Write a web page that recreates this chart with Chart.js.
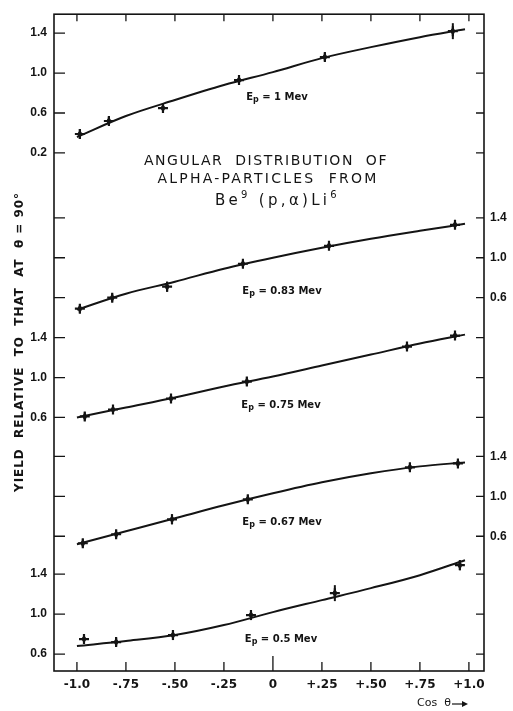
<!DOCTYPE html>
<html>
<head>
<meta charset="utf-8">
<script src="https://cdn.jsdelivr.net/npm/chart.js@4.4.1/dist/chart.umd.min.js"></script>
<style>
  html, body { margin: 0; padding: 0; background: #fff; }
  canvas { display: block; }
</style>
</head>
<body>
<canvas id="chart" width="513" height="711"></canvas>
<script>
// proton energies (Mev), top to bottom
const energies = ["1", "0.83", "0.75", "0.67", "0.5"];

// measured points: cos theta, yield relative to 90 deg, error (+/-)
const cos1 = [-0.985, -0.837, -0.561, -0.173, 0.265, 0.918];
const yld1 = [0.39, 0.52, 0.65, 0.93, 1.16, 1.42];
const err1 = [0.05, 0.04, 0.05, 0.04, 0.04, 0.08];

const cos2 = [-0.985, -0.82, -0.54, -0.153, 0.286, 0.929];
const yld2 = [0.49, 0.60, 0.71, 0.94, 1.12, 1.33];
const err2 = [0.04, 0.04, 0.05, 0.04, 0.04, 0.04];

const cos3 = [-0.96, -0.816, -0.52, -0.133, 0.684, 0.929];
const yld3 = [0.61, 0.68, 0.79, 0.96, 1.31, 1.42];
const err3 = [0.04, 0.04, 0.04, 0.04, 0.04, 0.04];

const cos4 = [-0.97, -0.80, -0.515, -0.128, 0.699, 0.944];
const yld4 = [0.53, 0.62, 0.77, 0.97, 1.29, 1.33];
const err4 = [0.04, 0.04, 0.05, 0.04, 0.04, 0.04];

const cos5 = [-0.964, -0.80, -0.51, -0.112, 0.316, 0.954];
const yld5 = [0.75, 0.72, 0.79, 0.99, 1.21, 1.49];
const err5 = [0.05, 0.04, 0.05, 0.05, 0.08, 0.05];

// smooth curves drawn through the points
const fitCos = [-1.0, -0.75, -0.5, -0.25, 0, 0.25, 0.5, 0.75, 0.98];
const fit1 = [0.36, 0.57, 0.73, 0.88, 1.01, 1.15, 1.26, 1.36, 1.44];
const fit2 = [0.48, 0.64, 0.76, 0.89, 1.00, 1.10, 1.19, 1.27, 1.34];
const fit3 = [0.60, 0.70, 0.80, 0.91, 1.01, 1.12, 1.23, 1.34, 1.43];
const fit4 = [0.52, 0.65, 0.78, 0.91, 1.03, 1.14, 1.23, 1.30, 1.34];
const fit5 = [0.68, 0.73, 0.79, 0.89, 1.02, 1.14, 1.26, 1.39, 1.54];

// axis ticks
const xTickVals = [-1, -0.75, -0.5, -0.25, 0, 0.25, 0.5, 0.75, 1];
const xTickLabels = ["-1.0", "-.75", "-.50", "-.25", "0", "+.25", "+.50", "+.75", "+1.0"];
const yTicksTop = [0.2, 0.6, 1.0, 1.4];
const yTicks = [0.6, 1.0, 1.4];

const series = [
  { cos: cos1, y: yld1, err: err1, fit: fit1 },
  { cos: cos2, y: yld2, err: err2, fit: fit2 },
  { cos: cos3, y: yld3, err: err3, fit: fit3 },
  { cos: cos4, y: yld4, err: err4, fit: fit4 },
  { cos: cos5, y: yld5, err: err5, fit: fit5 }
];

/* ---------- layout of the stacked panels ---------- */
const INK = '#141414';
const spanY = 6.58;                           // every curve scale covers the whole frame
const scaleTop = [1.59, 3.44, 4.64, 5.83, 7.01];
const sides = ['left', 'right', 'left', 'right', 'left'];

// ticks of each curve, expressed in the common frame (0 .. spanY) for the two label axes
function frameTicks(side) {
  const out = [];
  series.forEach((s, k) => {
    if (sides[k] !== side) return;
    (k === 0 ? yTicksTop : yTicks).forEach(v => out.push({ value: v - (scaleTop[k] - spanY), text: v.toFixed(1) }));
  });
  return out.sort((a, b) => a.value - b.value);
}
const leftTicks = frameTicks('left');
const rightTicks = frameTicks('right');

const tickFont = { family: 'Liberation Sans', weight: 'bold', size: 12 };

const scales = {
  x: {
    type: 'linear',
    min: -1.117, max: 1.077,
    grid: { display: false, drawTicks: false },
    border: { display: false },
    afterBuildTicks: s => { s.ticks = xTickVals.map(v => ({ value: v })); },
    afterFit: s => { s.height = 40; },
    ticks: {
      autoSkip: false, maxRotation: 0, padding: 7, color: INK,
      font: { family: 'DejaVu Sans', weight: 'bold', size: 12 },
      callback: v => xTickLabels[xTickVals.indexOf(v)]
    }
  },
  yl: {
    type: 'linear', position: 'left', min: 0, max: spanY,
    grid: { display: false, drawTicks: false },
    border: { display: false },
    afterBuildTicks: s => { s.ticks = leftTicks.map(t => ({ value: t.value })); },
    afterFit: s => { s.width = 54; },
    ticks: { autoSkip: false, padding: 7, color: INK, font: tickFont, callback: (v, i) => leftTicks[i].text }
  },
  yr: {
    type: 'linear', position: 'right', min: 0, max: spanY,
    grid: { display: false, drawTicks: false },
    border: { display: false },
    afterBuildTicks: s => { s.ticks = rightTicks.map(t => ({ value: t.value })); },
    afterFit: s => { s.width = 29; },
    ticks: { autoSkip: false, padding: 6, color: INK, font: tickFont, callback: (v, i) => rightTicks[i].text }
  }
};

// one hidden scale per curve, all spanning the same frame height
series.forEach((s, k) => {
  scales['y' + (k + 1)] = {
    type: 'linear',
    display: false,
    position: sides[k],
    min: scaleTop[k] - spanY,
    max: scaleTop[k],
    afterBuildTicks: sc => { sc.ticks = (k === 0 ? yTicksTop : yTicks).map(v => ({ value: v })); }
  };
});

const datasets = [];
series.forEach((s, k) => {
  datasets.push({
    data: fitCos.map((c, i) => ({ x: c, y: s.fit[i] })),
    yAxisID: 'y' + (k + 1),
    borderColor: INK, borderWidth: 2,
    pointRadius: 0, fill: false,
    cubicInterpolationMode: 'monotone'
  });
  datasets.push({
    data: s.cos.map((c, i) => ({ x: c, y: s.y[i] })),
    yAxisID: 'y' + (k + 1),
    showLine: false,
    pointStyle: 'cross', pointRadius: 5,
    borderColor: INK, borderWidth: 2.2
  });
});

/* ---------- text helpers ---------- */
function spaced(ctx, text, x, y, width) {
  ctx.letterSpacing = '0px';
  const w0 = ctx.measureText(text).width;
  const ls = width ? Math.max(0, (width - w0) / text.length) : 0;
  ctx.letterSpacing = ls + 'px';
  ctx.fillText(text, x, y);
  ctx.letterSpacing = '0px';
}

function energyLabel(ctx, e, cx, cy) {
  const big = 'bold 10px "DejaVu Sans"', small = 'bold 8px "DejaVu Sans"';
  const rest = ' = ' + e + ' Mev';
  ctx.font = big; const wE = ctx.measureText('E').width, wR = ctx.measureText(rest).width;
  ctx.font = small; const wP = ctx.measureText('p').width;
  let x = cx - (wE + wP + wR) / 2;
  ctx.textAlign = 'left';
  ctx.font = big; ctx.fillText('E', x, cy); x += wE;
  ctx.font = small; ctx.fillText('p', x, cy + 3); x += wP;
  ctx.font = big; ctx.fillText(rest, x, cy);
}

const decor = {
  id: 'decor',
  afterDatasetsDraw(chart) {
    const { ctx, chartArea: a } = chart;
    const sx = chart.scales.x;
    ctx.save();
    ctx.strokeStyle = INK;
    ctx.fillStyle = INK;
    ctx.lineCap = 'butt';

    // error bars and point dots
    series.forEach((s, k) => {
      const sy = chart.scales['y' + (k + 1)];
      ctx.lineWidth = 2;
      s.cos.forEach((c, i) => {
        const px = sx.getPixelForValue(c);
        ctx.beginPath();
        ctx.moveTo(px, sy.getPixelForValue(s.y[i] - s.err[i]));
        ctx.lineTo(px, sy.getPixelForValue(s.y[i] + s.err[i]));
        ctx.stroke();
        ctx.beginPath();
        ctx.ellipse(px, sy.getPixelForValue(s.y[i]), 2, 2.8, 0, 0, Math.PI * 2);
        ctx.fill();
      });
    });

    // frame
    ctx.lineWidth = 1.6;
    ctx.strokeRect(a.left, a.top, a.right - a.left, a.bottom - a.top);

    // inward tick marks on both sides, for every curve scale
    ctx.lineWidth = 1.3;
    series.forEach((s, k) => {
      const sy = chart.scales['y' + (k + 1)];
      sy.ticks.forEach(t => {
        const py = sy.getPixelForValue(t.value);
        ctx.beginPath();
        ctx.moveTo(a.left, py); ctx.lineTo(a.left + 11, py);
        ctx.moveTo(a.right, py); ctx.lineTo(a.right - 8, py);
        ctx.stroke();
      });
    });
    sx.ticks.forEach(t => {
      const px = sx.getPixelForValue(t.value);
      ctx.beginPath();
      ctx.moveTo(px, a.bottom); ctx.lineTo(px, a.bottom - (t.value === 0 ? 15 : 9));
      ctx.moveTo(px, a.top); ctx.lineTo(px, a.top + 7);
      ctx.stroke();
    });

    // figure title
    ctx.textAlign = 'center';
    ctx.textBaseline = 'middle';
    ctx.font = '14px "DejaVu Sans"';
    spaced(ctx, 'ANGULAR  DISTRIBUTION  OF', 266, 161, 244);
    spaced(ctx, 'ALPHA-PARTICLES  FROM', 268, 179, 221);

    // Be9(p,a)Li6
    const parts = [['Be', 15, 0], ['9', 10, -6], [' (p,α)', 15, 0], ['Li', 15, 0], ['6', 10, -6]];
    ctx.letterSpacing = '0px';
    let w0 = 0, n = 0;
    parts.forEach(p => { ctx.font = p[1] + 'px "DejaVu Sans"'; w0 += ctx.measureText(p[0]).width; n += p[0].length; });
    const ls = Math.max(0, (125 - w0) / n);
    ctx.letterSpacing = ls + 'px';
    let fx = 215;
    ctx.textAlign = 'left';
    parts.forEach(p => {
      ctx.font = p[1] + 'px "DejaVu Sans"';
      ctx.fillText(p[0], fx, 201 + p[2]);
      fx += ctx.measureText(p[0]).width;
    });
    ctx.letterSpacing = '0px';

    // energy labels
    const labelPos = [[277, 97], [282, 291], [281, 405], [282, 522], [281, 639]];
    energies.forEach((e, k) => energyLabel(ctx, e, labelPos[k][0], labelPos[k][1]));

    // y axis title
    ctx.save();
    ctx.translate(20, 342);
    ctx.rotate(-Math.PI / 2);
    ctx.textAlign = 'center';
    ctx.font = 'bold 12px "DejaVu Sans"';
    spaced(ctx, 'YIELD  RELATIVE  TO  THAT  AT  θ = 90°', 0, 0, 300);
    ctx.restore();

    // Cos theta arrow
    ctx.textAlign = 'left';
    ctx.font = '11px "DejaVu Sans"';
    ctx.fillText('Cos  θ', 417, 703);
    ctx.lineWidth = 1.2;
    ctx.beginPath();
    ctx.moveTo(452, 704); ctx.lineTo(466, 704);
    ctx.stroke();
    ctx.beginPath();
    ctx.moveTo(468, 704); ctx.lineTo(462, 701); ctx.lineTo(462, 707); ctx.closePath();
    ctx.fill();

    ctx.restore();
  }
};

new Chart(document.getElementById('chart'), {
  type: 'line',
  data: { datasets },
  options: {
    responsive: false,
    animation: false,
    layout: { padding: { top: 13, left: 0, right: 0, bottom: 0 } },
    plugins: { legend: { display: false }, tooltip: { enabled: false } },
    scales
  },
  plugins: [decor]
});
</script>
</body>
</html>
